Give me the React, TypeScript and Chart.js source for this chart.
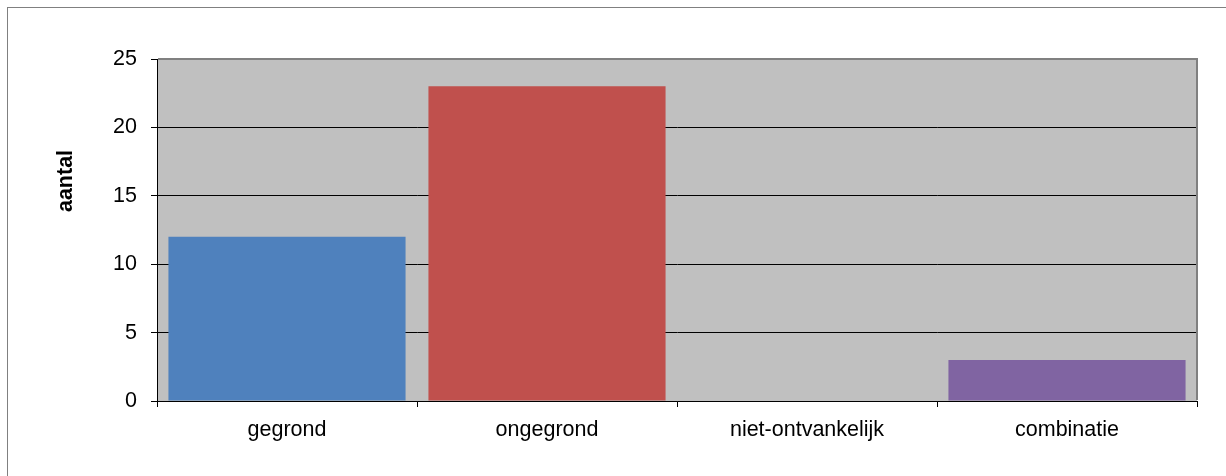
import React, { useEffect, useRef } from "react";
import { Chart, registerables } from "chart.js";

Chart.register(...registerables);

const categories = ["gegrond", "ongegrond", "niet-ontvankelijk", "combinatie"];
const values = [12, 23, 0, 3];
const barColors = ["#4F81BD", "#C0504D", "#9BBB59", "#8064A2"];
const yTicks = [0, 5, 10, 15, 20, 25];
const yTitle = "aantal";

const FAMILY = "'Liberation Sans', Arial, sans-serif";

const plotBg = {
  id: "plotBg",
  beforeDraw(chart: any) {
    const { ctx, chartArea: a } = chart;
    ctx.save();
    ctx.fillStyle = "#C0C0C0";
    ctx.fillRect(a.left, a.top, a.right - a.left, a.bottom - a.top);
    ctx.restore();
  },
  afterDraw(chart: any) {
    const { ctx, chartArea: a } = chart;
    ctx.save();
    ctx.strokeStyle = "#808080";
    ctx.lineWidth = 2;
    ctx.beginPath();
    ctx.moveTo(a.left + 1, a.top);
    ctx.lineTo(a.right, a.top);
    ctx.lineTo(a.right, a.bottom - 1);
    ctx.stroke();
    // y-axis title
    ctx.translate(66, 181);
    ctx.rotate(-Math.PI / 2);
    ctx.fillStyle = "#000000";
    ctx.font = `bold 21.5px ${FAMILY}`;
    ctx.textAlign = "center";
    ctx.textBaseline = "middle";
    ctx.fillText(yTitle, 0, 0);
    ctx.restore();
  },
};

export default function App() {
  const ref = useRef<HTMLCanvasElement>(null);
  useEffect(() => {
    if (!ref.current) return;
    const font = { family: FAMILY, size: 21.5 };
    const chart = new Chart(ref.current, {
      type: "bar",
      data: {
        labels: categories,
        datasets: [
          {
            data: values,
            backgroundColor: barColors,
            borderWidth: 0,
            barPercentage: 0.912,
            categoryPercentage: 1,
          },
        ],
      },
      options: {
        animation: false,
        responsive: false,
        maintainAspectRatio: false,
        layout: { padding: { top: 59, right: 29, left: 0, bottom: 0 } },
        plugins: { legend: { display: false }, tooltip: { enabled: false } },
        scales: {
          x: {
            grid: {
              offset: true,
              drawOnChartArea: false,
              drawTicks: true,
              tickLength: 6,
              color: "#000000",
            },
            border: { color: "#000000", width: 1 },
            ticks: { color: "#000000", font, padding: 10 },
            afterFit(scale: any) {
              scale.height = 75;
            },
          },
          y: {
            min: 0,
            max: 25,
            afterBuildTicks(scale: any) {
              scale.ticks = yTicks.map((v) => ({ value: v }));
            },
            grid: { color: "#000000", lineWidth: 1, tickLength: 6 },
            border: { color: "#000000", width: 1 },
            ticks: { color: "#000000", font, padding: 14 },
            afterFit(scale: any) {
              scale.width = 157;
            },
          },
        },
      },
      plugins: [plotBg],
    });
    return () => chart.destroy();
  }, []);

  return (
    <div
      style={{
        position: "fixed",
        left: 0,
        top: 0,
        width: 1226,
        height: 476,
        overflow: "hidden",
        background: "#ffffff",
      }}
    >
      <div
        style={{
          position: "absolute",
          left: 7,
          top: 7,
          width: 1240,
          height: 490,
          border: "1px solid #808080",
        }}
      />
      <canvas
        ref={ref}
        width={1226}
        height={476}
        style={{ position: "absolute", left: 0, top: 0, width: 1226, height: 476 }}
      />
    </div>
  );
}
